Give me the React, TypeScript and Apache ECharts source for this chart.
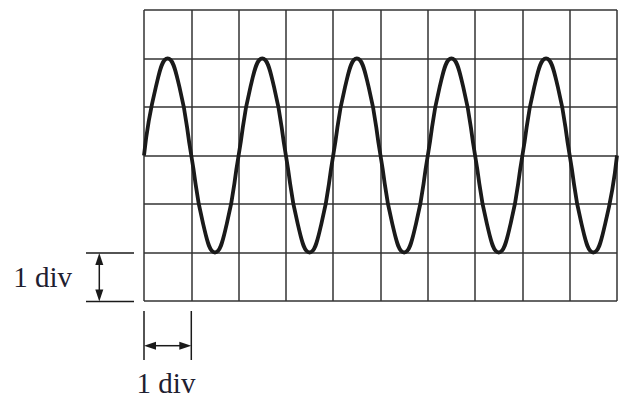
import React, { useEffect, useRef } from "react";
import * as echarts from "echarts";

// Oscilloscope screen: 10 x 6 divisions, sine wave at 0.25-div steps
const waveX = [
  0, 0.25, 0.5, 0.75, 1, 1.25, 1.5, 1.75, 2, 2.25, 2.5, 2.75, 3, 3.25, 3.5, 3.75, 4,
  4.25, 4.5, 4.75, 5, 5.25, 5.5, 5.75, 6, 6.25, 6.5, 6.75, 7, 7.25, 7.5, 7.75, 8,
  8.25, 8.5, 8.75, 9, 9.25, 9.5, 9.75, 10,
];
const waveY = [
  0, 1.41, 2, 1.41, 0, -1.41, -2, -1.41, 0, 1.41, 2, 1.41, 0, -1.41, -2, -1.41, 0,
  1.41, 2, 1.41, 0, -1.41, -2, -1.41, 0, 1.41, 2, 1.41, 0, -1.41, -2, -1.41, 0,
  1.41, 2, 1.41, 0, -1.41, -2, -1.41, 0,
];
const xRange = [0, 10];
const yRange = [-3, 3];
const divLabels = ["1 div", "1 div"];

const INK = "#1a1a1a";
const GRID = "#333333";

export default function App() {
  const ref = useRef<HTMLDivElement>(null);
  useEffect(() => {
    if (!ref.current) return;
    const chart = echarts.init(ref.current, undefined, { renderer: "svg" });
    const lineStyle = { stroke: INK, lineWidth: 1.5 };
    const font = '29px "Liberation Serif", "Times New Roman", serif';
    chart.setOption({
      animation: false,
      backgroundColor: "#ffffff",
      grid: { left: 144, right: 3, top: 10, bottom: 97 },
      xAxis: {
        type: "value",
        min: xRange[0],
        max: xRange[1],
        interval: 1,
        axisLine: { show: false },
        axisTick: { show: false },
        axisLabel: { show: false },
        splitLine: { show: true, lineStyle: { color: GRID, width: 1.5 } },
      },
      yAxis: {
        type: "value",
        min: yRange[0],
        max: yRange[1],
        interval: 1,
        axisLine: { show: false },
        axisTick: { show: false },
        axisLabel: { show: false },
        splitLine: { show: true, lineStyle: { color: GRID, width: 1.5 } },
      },
      series: [
        {
          type: "line",
          data: waveX.map((x, i) => [x, waveY[i]]),
          smooth: true,
          showSymbol: false,
          lineStyle: { color: INK, width: 3.8 },
        },
      ],
      graphic: [
        // left "1 div" marker
        { type: "line", shape: { x1: 86, y1: 253, x2: 134, y2: 253 }, style: lineStyle },
        { type: "line", shape: { x1: 86, y1: 301.5, x2: 134, y2: 301.5 }, style: lineStyle },
        { type: "line", shape: { x1: 99.3, y1: 262, x2: 99.3, y2: 292 }, style: lineStyle },
        { type: "polygon", shape: { points: [[99.3, 253], [95.3, 265], [103.3, 265]] }, style: { fill: INK } },
        { type: "polygon", shape: { points: [[99.3, 301.5], [95.3, 289.5], [103.3, 289.5]] }, style: { fill: INK } },
        {
          type: "text",
          style: { text: divLabels[0], x: 72, y: 277, font, fill: "#1e2030", textAlign: "right", textVerticalAlign: "middle" },
        },
        // bottom "1 div" marker
        { type: "line", shape: { x1: 144, y1: 311, x2: 144, y2: 360 }, style: lineStyle },
        { type: "line", shape: { x1: 191.3, y1: 311, x2: 191.3, y2: 360 }, style: lineStyle },
        { type: "line", shape: { x1: 153, y1: 345.7, x2: 182, y2: 345.7 }, style: lineStyle },
        { type: "polygon", shape: { points: [[144, 345.7], [156, 341.7], [156, 349.7]] }, style: { fill: INK } },
        { type: "polygon", shape: { points: [[191.3, 345.7], [179.3, 341.7], [179.3, 349.7]] }, style: { fill: INK } },
        {
          type: "text",
          style: { text: divLabels[1], x: 166, y: 383, font, fill: "#1e2030", textAlign: "center", textVerticalAlign: "middle" },
        },
      ],
    });
    return () => chart.dispose();
  }, []);
  return (
    <div
      ref={ref}
      style={{ position: "absolute", left: 0, top: 0, width: 620, height: 398 }}
    />
  );
}
